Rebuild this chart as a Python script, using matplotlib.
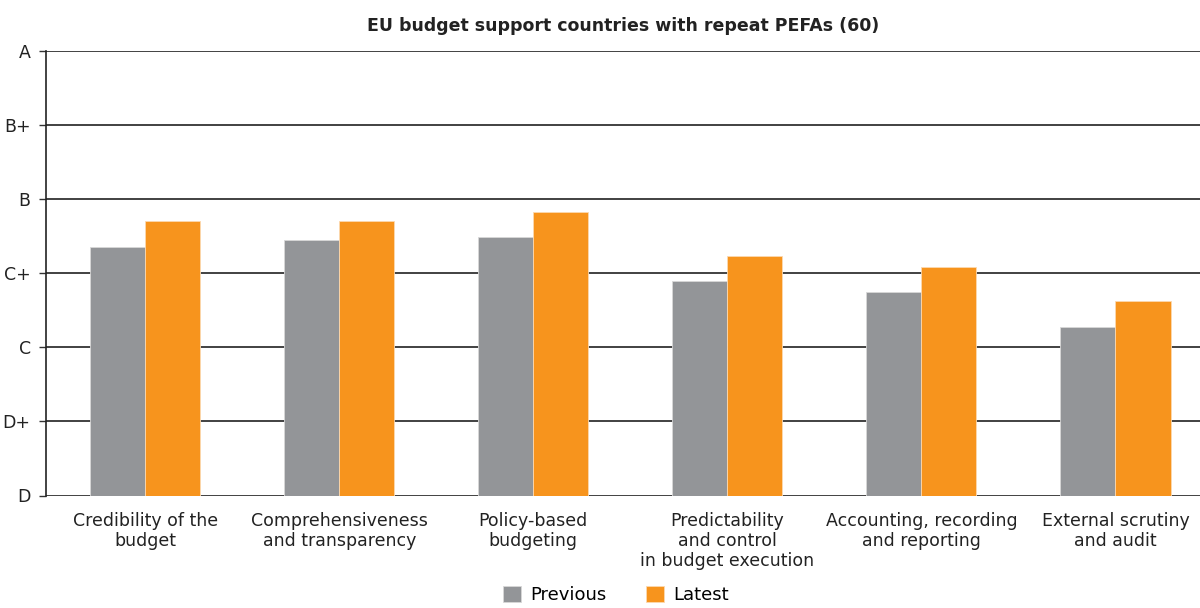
import numpy as np
import matplotlib.pyplot as plt

plt.rcParams['font.family'] = ['DejaVu Sans']

categories = ['Credibility of the\nbudget', 'Comprehensiveness\nand transparency',
              'Policy-based\nbudgeting', 'Predictability\nand control\nin budget execution',
              'Accounting, recording\nand reporting', 'External scrutiny\nand audit']
previous = [3.35, 3.45, 3.48, 2.89, 2.74, 2.27]
latest = [3.70, 3.70, 3.82, 3.23, 3.08, 2.62]
grades = ['D', 'D+', 'C', 'C+', 'B', 'B+', 'A']

c_prev = '#939598'
c_last = '#f7941d'

fig = plt.figure(figsize=(12, 6.08), dpi=100)
ax = fig.add_axes([46/1200, 1-495.5/608, 1-46/1200, (495.5-50.5)/608])

x = np.arange(len(categories))
w = 0.284
ax.bar(x - w/2, previous, w, color=c_prev, edgecolor='#d8d8d8', linewidth=0.6, label='Previous', zorder=3)
ax.bar(x + w/2, latest, w, color=c_last, edgecolor='#fcd9b0', linewidth=0.6, label='Latest', zorder=3)

ax.set_ylim(0, 6)
ax.set_xlim(-0.512, 5.436)
ax.set_yticks(range(7))
ax.set_yticklabels(grades, fontsize=12.5, color='#222222')
ax.set_xticks(x)
ax.set_xticklabels(categories, fontsize=12.5, color='#222222', linespacing=1.15)
ax.tick_params(axis='x', length=0, pad=12)
ax.tick_params(axis='y', length=5, width=1, color='#333333', pad=6)
ax.yaxis.grid(True, color='#333333', linewidth=1.3, zorder=0)
ax.set_axisbelow(True)
for s in ['top', 'right', 'bottom']:
    ax.spines[s].set_visible(False)
ax.spines['left'].set_color('#222222')
ax.spines['left'].set_linewidth(1.2)

ax.set_title('EU budget support countries with repeat PEFAs (60)', fontsize=12.5,
             fontweight='bold', color='#222222', pad=14)

fig.legend(loc='lower center', bbox_to_anchor=(0.513, -0.02), ncol=2, frameon=False,
           fontsize=13, handlelength=1.0, handleheight=1.0, columnspacing=2.2,
           handletextpad=0.5)

fig.savefig('out.png', dpi=100)
